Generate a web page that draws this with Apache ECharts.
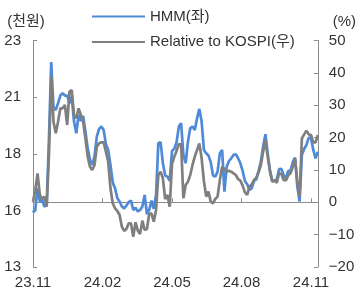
<!DOCTYPE html>
<html>
<head>
<meta charset="utf-8">
<script src="https://cdn.jsdelivr.net/npm/echarts@6/dist/echarts.min.js"></script>
<style>
  html, body { margin: 0; padding: 0; background: #fff; }
  #chart { width: 359px; height: 291px; }
</style>
</head>
<body>
<div id="chart"></div>
<script>
// x positions: days since 2023-11-01, one point every 3 days
var stepDays = 3;
var tickLabels = ['23.11', '24.02', '24.05', '24.08', '24.11'];

// HMM share price, thousand won (left axis)
var hmm = [
    15.40, 15.52, 16.48, 15.89, 15.96, 15.67, 15.74, 18.68, 22.05, 20.01,
    19.94, 20.23, 20.57, 20.67, 20.57, 20.57, 20.23, 20.52, 19.42, 18.90,
    19.71, 19.45, 19.67, 18.98, 18.24, 17.73, 17.51, 17.88, 18.76, 19.10,
    19.20, 19.05, 18.42, 18.17,
    17.51, 16.73, 16.48, 16.04, 15.89, 15.67, 15.59, 15.71, 15.86, 15.93,
    15.52, 15.62, 15.45, 15.52, 15.67, 16.18, 15.33, 15.52, 15.93, 15.57,
    16.18, 18.46, 18.51, 17.58, 17.04, 16.99, 16.80, 18.13, 18.21, 18.51,
    19.20, 19.35,
    17.95, 17.58, 18.54, 19.13, 19.20, 19.05, 19.57, 19.98, 19.42, 18.17,
    18.02, 17.92, 17.63, 17.04, 16.99, 17.21, 18.02, 18.17, 16.33, 17.43,
    17.68, 17.80, 17.95, 17.98, 17.80, 17.58, 17.24, 16.80, 16.65, 16.40,
    16.48, 16.80,
    16.87, 17.24, 17.65, 18.32, 18.86, 18.02, 17.21, 16.80, 16.82, 16.87,
    17.32, 17.33, 17.05, 16.92, 17.24, 17.24, 17.63, 17.83, 16.55, 15.89,
    17.95, 18.21, 18.39, 18.71, 18.70, 18.17, 17.80, 18.09
];

// relative performance vs KOSPI, % (right axis)
var relative = [
    0.20, 3.80, 8.95, 2.26, 1.02, 1.74, -1.35, 14.62, 39.00, 24.92,
    21.31, 24.92, 29.04, 29.04, 30.07, 23.89, 34.19, 34.70, 26.98, 25.95,
    29.04, 26.98, 24.92, 19.77, 14.10, 11.01, 9.98, 11.53, 17.19, 18.22,
    18.53, 18.53, 15.65, 12.56,
    4.32, -0.32, -1.86, -2.69, -3.92, -7.53, -8.87, -8.25, -6.50, -6.50,
    -10.62, -6.19, -8.76, -9.79, -5.67, -8.56, -8.25, -3.61, -3.41, -5.98,
    -2.38, 8.44, 9.47, 7.41, 1.02, 2.26, -1.35, 11.84, 14.10, 15.85,
    18.02, 17.91,
    1.23, 5.35, 6.38, 8.44, 11.53, 14.10, 16.16, 18.22, 13.59, 6.58,
    1.74, 3.29, 0.20, -0.32, 1.02, 1.74, 6.89, 11.01, 10.19, 9.47,
    9.78, 9.47, 8.95, 8.44, 7.20, 6.69, 5.14, 3.08, 2.26, 4.83,
    5.55, 6.89,
    7.61, 9.26, 11.53, 15.65, 19.05, 14.10, 9.78, 6.38, 6.69, 6.07,
    8.95, 8.75, 6.89, 6.79, 8.33, 8.95, 11.01, 13.59, 6.38, 1.74,
    19.77, 21.00, 22.14, 21.00, 20.80, 18.53, 18.53, 20.80
];

function toPairs(values) {
    return values.map(function (v, i) { return [i * stepDays, v]; });
}

var myChart = echarts.init(document.getElementById('chart'));

var fontFamily = '"Liberation Sans", Arial, "Noto Sans CJK KR", sans-serif';
var axisColor = '#8c8c8c';
var textColor = '#333';
var fontSize = 15;

var option = {
    animation: false,
    textStyle: { fontFamily: fontFamily },
    legend: {
        orient: 'vertical',
        left: 86,
        top: 4,
        itemWidth: 53,
        itemHeight: 15,
        itemGap: 10.5,
        itemStyle: { opacity: 0 },
        textStyle: { fontSize: fontSize, color: textColor, fontFamily: fontFamily },
        data: ['HMM(좌)', 'Relative to KOSPI(우)']
    },
    grid: {
        left: 33,
        right: 34,
        top: 40.5,
        bottom: 24
    },
    xAxis: {
        type: 'value',
        min: 0,
        max: 375,
        interval: 91.5,
        splitLine: { show: false },
        axisLine: { lineStyle: { color: axisColor } },
        axisTick: { inside: true, length: 4, lineStyle: { color: axisColor } },
        axisLabel: {
            margin: 8,
            fontSize: fontSize,
            color: textColor,
            showMaxLabel: false,
            formatter: function (v) {
                var k = v / 91.5;
                if (Math.abs(k - Math.round(k)) > 0.01) return '';
                return tickLabels[Math.round(k)] || '';
            }
        }
    },
    yAxis: [{
        type: 'value',
        min: 13,
        max: 23,
        interval: 2.5,
        name: '(천원)',
        nameGap: 11.5,
        nameTextStyle: { fontSize: fontSize, color: textColor, padding: [0, 14, 0, 0] },
        splitLine: { show: false },
        axisLine: { show: true, lineStyle: { color: axisColor } },
        axisTick: { show: true, inside: true, length: 4, lineStyle: { color: axisColor } },
        axisLabel: {
            margin: 12,
            fontSize: fontSize,
            color: textColor,
            formatter: function (v) { return String(Math.round(v)); }
        }
    }, {
        type: 'value',
        position: 'right',
        min: -20,
        max: 50,
        interval: 10,
        name: '(%)',
        nameGap: 11.5,
        nameTextStyle: { fontSize: fontSize, color: textColor, padding: [0, 0, 0, 53] },
        splitLine: { show: false },
        axisLine: { show: true, lineStyle: { color: axisColor } },
        axisTick: { show: true, inside: true, length: 4, lineStyle: { color: axisColor } },
        axisLabel: {
            margin: 11,
            fontSize: fontSize,
            color: textColor,
            formatter: function (v) { return String(v).replace('-', '\u2212'); }
        }
    }],
    series: [{
        name: 'HMM(좌)',
        type: 'line',
        yAxisIndex: 0,
        symbol: 'none',
        data: toPairs(hmm),
        lineStyle: { color: '#4f8ad8', width: 2.7 },
        itemStyle: { color: '#4f8ad8' }
    }, {
        name: 'Relative to KOSPI(우)',
        type: 'line',
        yAxisIndex: 1,
        symbol: 'none',
        data: toPairs(relative),
        lineStyle: { color: '#7f7f7f', width: 2.7 },
        itemStyle: { color: '#7f7f7f' }
    }]
};

myChart.setOption(option);
</script>
</body>
</html>
